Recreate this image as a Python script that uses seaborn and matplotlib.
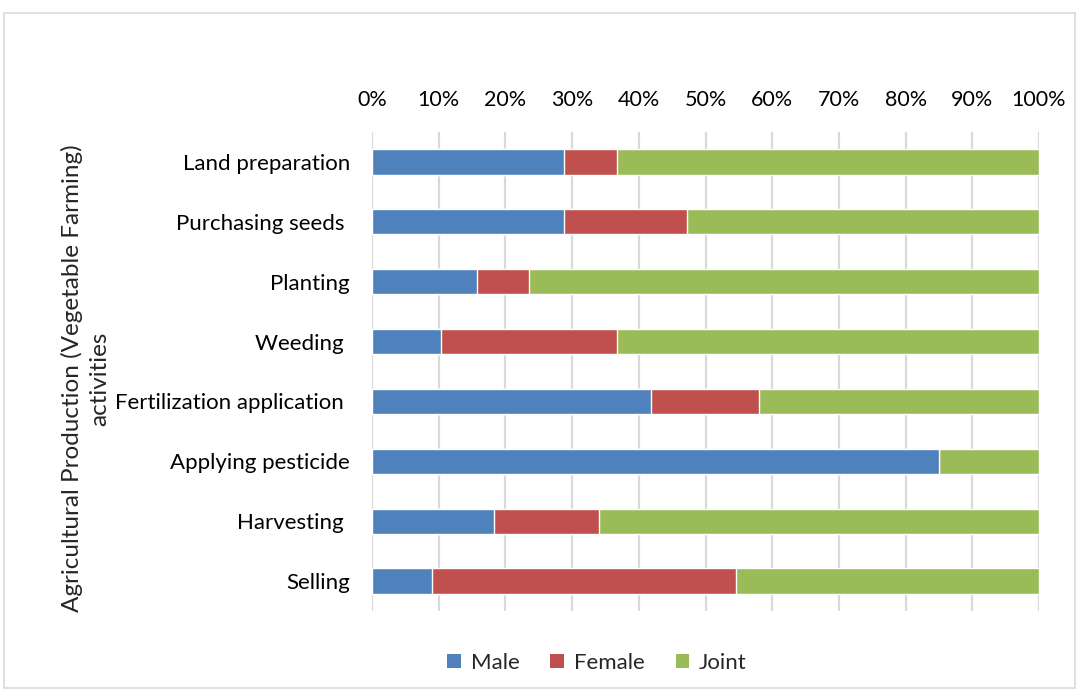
import matplotlib
matplotlib.use("Agg")
import matplotlib.pyplot as plt
import seaborn as sns
import pandas as pd
import numpy as np
from matplotlib.patches import Patch, Rectangle

activities = ["Land preparation", "Purchasing seeds ", "Planting", "Weeding ",
              "Fertilization application ", "Applying pesticide", "Harvesting ", "Selling"]
male = [28.8, 28.8, 15.8, 10.4, 41.9, 85.0, 18.3, 9.0]
female = [8.0, 18.5, 7.8, 26.4, 16.1, 0.0, 15.8, 45.5]
joint = [round(100 - m - f, 1) for m, f in zip(male, female)]

series_names = ["Male", "Female", "Joint"]
colors = {"Male": "#4F81BD", "Female": "#C0504D", "Joint": "#9BBB59"}

df = pd.DataFrame({"activity": activities, "Male": male, "Female": female, "Joint": joint})
df["male_end"] = df["Male"]
df["female_end"] = df["Male"] + df["Female"]
df["joint_end"] = df["female_end"] + df["Joint"]

sns.set_theme(style="white")
plt.rcParams["font.family"] = ["Lato", "DejaVu Sans"]

fig = plt.figure(figsize=(10.79, 6.92), dpi=100)
W, H = 1079, 692
ax = fig.add_axes([372 / W, 1 - 611 / H, (1039 - 372) / W, (611 - 132) / H])

# stacked bars: draw cumulative totals back to front
for col, name in [("joint_end", "Joint"), ("female_end", "Female"), ("male_end", "Male")]:
    sns.barplot(data=df, x=col, y="activity", orient="h", color=colors[name],
                width=0.42, saturation=1, ax=ax, zorder=3)

ax.set_xlim(0, 100)
ax.set_xticks(np.arange(0, 101, 10))
ax.set_xticklabels([f"{v}%" for v in range(0, 101, 10)], fontsize=15.5)
ax.xaxis.tick_top()
ax.tick_params(axis="x", length=0, pad=16, colors="#000000")
ax.tick_params(axis="y", length=0, pad=16, labelsize=16, colors="#000000")
ax.grid(axis="x", color="#d9d9d9", linewidth=1.6, zorder=0)
for s in ax.spines.values():
    s.set_visible(False)
ax.set_xlabel("")
ax.set_ylabel("Agricultural Production (Vegetable Farming)\nactivities", fontsize=17.5,
              linespacing=1.35)
ax.yaxis.set_label_coords(-(372 - 110) / (1039 - 372), 0.485)

handles = [Patch(facecolor=colors[n], edgecolor="none") for n in series_names]
fig.legend(handles, series_names, loc="center", bbox_to_anchor=(597 / W, 1 - 663 / H),
           ncol=3, frameon=False, fontsize=16, handlelength=0.6, handleheight=0.6,
           handletextpad=0.45, columnspacing=1.4)

fig.patches.append(Rectangle((4 / W, 4 / H), 1 - 8 / W, 1 - 17 / H, transform=fig.transFigure,
                             fill=False, edgecolor="#d9d9d9", linewidth=1.2))

fig.savefig("out.png", dpi=100)
